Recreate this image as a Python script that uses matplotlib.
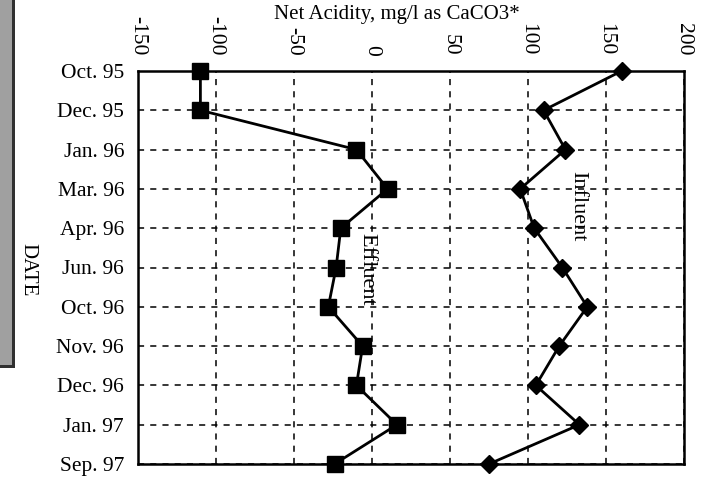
import matplotlib
matplotlib.use("Agg")
import matplotlib.pyplot as plt
from matplotlib.patches import Rectangle

dates = ["Oct. 95", "Dec. 95", "Jan. 96", "Mar. 96", "Apr. 96", "Jun. 96",
         "Oct. 96", "Nov. 96", "Dec. 96", "Jan. 97", "Sep. 97"]
effluent = [-110, -110, -10, 10, -20, -23, -28, -6, -10, 16, -24]
influent = [160, 110, 124, 95, 104, 122, 138, 120, 105, 133, 75]
xticks = [-150, -100, -50, 0, 50, 100, 150, 200]

plt.rcParams['font.family'] = ['Liberation Serif', 'DejaVu Serif']

fig = plt.figure(figsize=(7.04, 4.80), dpi=100)
ax = fig.add_axes([138/704, 1-464/480, (684-138)/704, (464-71)/480])

ypos = list(range(len(dates)))
ax.plot(effluent, ypos, color='black', lw=2.0, marker='s', ms=11.5,
        mfc='black', mec='black', zorder=3, clip_on=False)
ax.plot(influent, ypos, color='black', lw=2.0, marker='D', ms=8.8,
        mfc='black', mec='black', zorder=3, clip_on=False)

ax.set_xlim(-150, 200)
ax.set_ylim(len(dates)-1, 0)
ax.set_xticks(xticks)
ax.set_yticks(ypos)
ax.set_yticklabels(dates, fontsize=15.5)
ax.xaxis.tick_top()
ax.set_xticklabels([str(v) for v in xticks], fontsize=15.5, rotation=-90)
ax.tick_params(axis='x', length=0, pad=11)
ax.tick_params(axis='y', length=0, pad=10)
ax.grid(True, color='black', ls=(0, (4, 4)), lw=1.1)
for s in ax.spines.values():
    s.set_linewidth(1.8)
    s.set_color('black')

fig.text(397/704, 1-15/480, "Net Acidity, mg/l as CaCO3*", fontsize=15,
         ha='center', va='center')
fig.text(28/704, 1-270/480, "DATE", rotation=-90, fontsize=15,
         ha='center', va='center')

ax.text(-3, 5.05, "Effluent", rotation=-90, fontsize=16, ha='center', va='center')
ax.text(132, 3.45, "Influent", rotation=-90, fontsize=16, ha='center', va='center')

# scanned grey strip on the left edge
fig.patches.append(Rectangle((0, 1-368/480), 13/704, 368/480,
                             transform=fig.transFigure, facecolor='#a0a0a0',
                             edgecolor='none', zorder=0))
fig.patches.append(Rectangle((12/704, 1-368/480), 3/704, 368/480,
                             transform=fig.transFigure, facecolor='#303030',
                             edgecolor='none', zorder=0))
fig.patches.append(Rectangle((0, 1-368/480), 15/704, 3/480,
                             transform=fig.transFigure, facecolor='#303030',
                             edgecolor='none', zorder=0))

fig.savefig("out.png", dpi=100)
